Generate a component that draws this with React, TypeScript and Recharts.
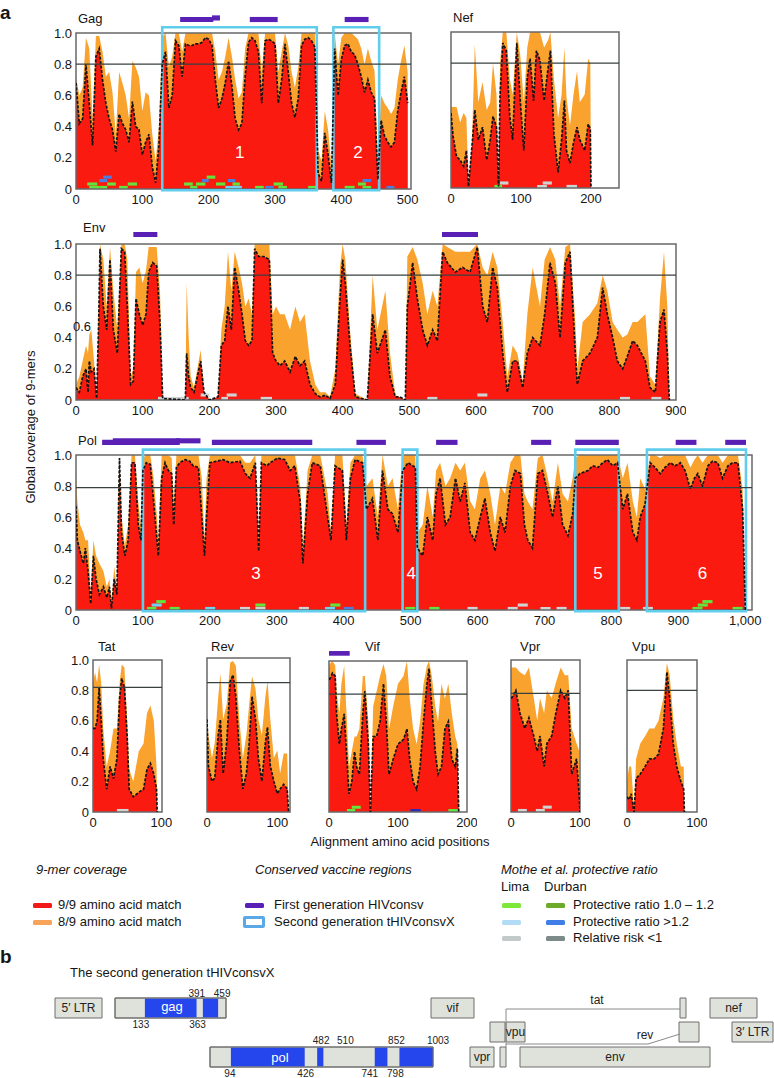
import React from 'react';
import { ComposedChart, Area, Line, XAxis, YAxis, ReferenceLine, ReferenceArea, ReferenceDot } from 'recharts';

// ---------------- DATA ----------------
// Gag
const gagX = [0,5,10,15,20,25,30,35,40,45,50,55,60,65,70,75,80,85,90,95,100,105,110,115,120,125,130,135,140,145,150,155,160,165,170,175,180,185,190,195,200,205,210,215,220,225,230,235,240,245,250,255,260,265,270,275,280,285,290,295,300,305,310,315,320,325,330,335,340,345,350,355,360,365,370,375,380,385,390,395,400,405,410,415,420,425,430,435,440,445,450,455,460,465,470,475,480,485,490,495,500];
const gagRed = [0.68,0.42,0.45,0.80,0.55,0.28,0.85,0.90,0.70,0.55,0.45,0.38,0.24,0.48,0.42,0.38,0.30,0.56,0.40,0.38,0.22,0.30,0.35,0.14,0.04,0.28,0.80,0.88,0.52,0.60,0.95,0.92,0.72,0.93,0.92,0.92,0.93,0.93,0.94,0.97,0.96,0.92,0.70,0.52,0.58,0.68,0.82,0.66,0.45,0.38,0.42,0.72,0.94,0.97,0.95,0.88,0.55,0.95,0.96,0.95,0.93,0.55,0.70,0.93,0.75,0.55,0.46,0.58,0.92,0.96,0.97,0.95,0.91,0.10,0.05,0.36,0.22,0.04,0.90,0.60,0.83,0.92,0.93,0.88,0.86,0.80,0.72,0.62,0.70,0.62,0.58,0.06,0.44,0.34,0.30,0.27,0.30,0.50,0.62,0.72,0.55];
const gagOrange = [0.72,0.60,0.65,0.97,0.90,0.45,0.98,0.98,0.88,0.72,0.75,0.62,0.35,0.75,0.68,0.60,0.45,0.82,0.78,0.72,0.50,0.62,0.60,0.35,0.18,0.40,0.97,1.0,0.78,0.85,1.0,1.0,0.88,1.0,1.0,1.0,1.0,1.0,1.0,1.0,1.0,1.0,0.88,0.70,0.75,0.85,0.97,0.85,0.70,0.58,0.62,0.90,1.0,1.0,1.0,1.0,0.75,1.0,1.0,1.0,1.0,0.75,0.88,1.0,0.92,0.75,0.65,0.78,1.0,1.0,1.0,1.0,1.0,0.25,0.18,0.50,0.38,0.15,1.0,0.80,0.97,1.0,1.0,1.0,0.98,0.96,0.90,0.80,0.90,0.82,0.76,0.20,0.60,0.55,0.52,0.48,0.52,0.70,0.82,0.92,0.75];
const gagPurple: [number, number, number][] = [[157,207,0],[205,217,1],[262,304,0],[405,441,0]];
const gagBoxes: [number, number][] = [[130,363],[388,457]];
const gagBoxNames = ['1','2'];
const gagMarks: [number, number, number, string][] = [
  [17,32,1,'g'],[20,35,0,'g'],[35,47,2,'b'],[41,54,3,'b'],[47,60,1,'g'],[35,47,0,'g'],[65,78,0,'g'],[78,92,1,'g'],
  [163,176,1,'g'],[172,183,0,'g'],[181,195,1,'g'],[190,200,2,'b'],[197,210,3,'g'],[211,225,1,'g'],[229,240,2,'b'],[236,247,1,'g'],
  [225,250,0,'c'],[270,283,0,'g'],[285,298,0,'b'],[298,312,1,'g'],[305,318,0,'g'],[350,362,0,'g'],
  [405,420,0,'g'],[425,437,1,'g'],[432,445,2,'b'],[432,445,0,'g'],[468,480,0,'b'],
];

// Nef
const nefX = [0,3,8,13,18,22,25,30,34,39,45,51,56,60,65,68,70,74,79,84,88,94,99,104,109,113,118,122,127,133,139,142,147,153,158,162,165,170,175,180,184,191,196,199,200];
const nefRed = [0.48,0.33,0.20,0.18,0.14,0.24,0.01,0.27,0.50,0.31,0.39,0.18,0.31,0.46,0.39,0.01,0.59,0.93,0.88,0.46,0.31,0.93,0.56,0.24,0.71,0.83,0.56,0.88,0.82,0.56,0.78,0.88,0.35,0.10,0.31,0.56,0.24,0.16,0.29,0.39,0.31,0.24,0.41,0.38,0];
const nefOrange = [0.52,0.52,0.52,0.42,0.48,0.45,0.02,0.30,0.92,0.55,0.68,0.50,0.55,0.80,0.60,0.02,0.80,1.0,1.0,0.70,0.60,1.0,0.85,0.55,0.90,1.0,1.0,1.0,1.0,0.90,0.95,1.0,0.70,0.45,0.60,0.90,0.58,0.40,0.60,0.75,0.55,0.60,0.83,0.80,0];
const nefMarks: [number, number, number, string][] = [[62,73,0,'g'],[70,82,1,'gy'],[123,137,0,'gy'],[131,144,1,'gy'],[165,180,0,'gy']];

// Env
const envX = [0,5,10,15,18,20,23,27,31,34,36,41,46,51,56,62,68,73,77,82,86,90,95,100,105,109,115,121,126,130,164,166,169,172,177,187,192,200,213,218,223,228,233,238,244,249,254,259,264,268,274,282,290,295,300,306,313,321,329,336,343,351,359,366,374,381,389,396,400,404,411,419,437,445,452,464,471,479,486,494,497,505,512,520,527,535,542,550,557,569,580,591,602,610,617,625,632,640,647,655,662,670,677,685,696,703,711,719,726,734,741,749,752,760,771,782,790,797,805,812,820,827,835,842,854,861,869,876,882,887,890];
const envRed = [0.08,0.05,0.15,0.20,0.05,0.25,0.18,0.20,0.01,0.50,0.97,0.60,0.45,0.90,0.45,0.30,0.97,0.95,0.60,0.10,0.12,0.65,0.55,0.48,0.55,0.82,0.88,0.86,0.50,0.01,0.00,0.30,0.15,0.08,0.05,0.25,0.05,0.00,0.02,0.35,0.38,0.60,0.45,0.85,0.70,0.55,0.38,0.35,0.38,0.97,0.92,0.92,0.90,0.30,0.25,0.22,0.25,0.18,0.28,0.22,0.25,0.10,0.04,0.02,0.03,0.01,0.10,0.65,0.90,0.75,0.35,0.02,0.00,0.55,0.30,0.45,0.15,0.02,0.02,0.00,0.60,0.88,0.65,0.45,0.35,0.45,0.38,0.95,0.88,0.82,0.85,0.82,0.98,0.60,0.50,0.85,0.72,0.30,0.05,0.25,0.25,0.08,0.30,0.40,0.35,0.55,0.88,0.75,0.40,0.88,0.95,0.30,0.10,0.25,0.30,0.40,0.72,0.55,0.40,0.25,0.20,0.28,0.38,0.35,0.25,0.08,0.05,0.50,0.58,0.30,0.00];
const envOrange = [0.10,0.15,0.25,0.35,0.30,0.42,0.45,0.25,0.02,0.60,1.0,0.90,0.60,0.98,0.70,0.45,1.0,1.0,0.90,0.15,0.20,0.82,0.85,0.75,0.83,0.98,0.98,0.98,0.70,0.01,0.00,0.75,0.40,0.15,0.08,0.32,0.06,0.00,0.02,0.45,0.60,0.95,0.70,0.95,0.85,0.75,0.60,0.65,0.55,1.0,1.0,1.0,1.0,0.55,0.60,0.55,0.55,0.45,0.60,0.50,0.55,0.25,0.10,0.05,0.05,0.02,0.20,0.85,1.0,0.90,0.45,0.04,0.00,0.80,0.45,0.70,0.30,0.03,0.02,0.00,0.92,0.98,0.90,0.75,0.55,0.70,0.60,1.0,0.98,0.95,0.95,0.95,1.0,0.85,0.80,0.95,0.85,0.50,0.15,0.35,0.30,0.12,0.55,0.85,0.60,0.90,0.98,0.90,0.60,0.98,1.0,0.50,0.20,0.50,0.55,0.62,0.80,0.70,0.50,0.45,0.40,0.42,0.50,0.50,0.55,0.15,0.10,0.65,0.95,0.60,0.00];
const envPurple: [number, number, number][] = [[86,122,0],[549,603,0]];
const envMarks: [number, number, number, string][] = [[123,169,0,'gy'],[187,200,1,'gy'],[218,228,0,'gy'],[226,241,1,'gy'],[277,294,0,'gy'],[527,542,0,'gy'],[602,617,1,'gy'],[816,831,0,'gy'],[863,878,0,'gy']];

// Pol
const polX = [0,2,6,11,14,18,22,26,30,35,41,46,50,53,57,61,65,68,73,78,83,88,93,97,100,105,111,116,121,123,128,133,138,143,146,150,155,163,170,175,183,188,192,195,200,210,220,230,245,253,260,268,273,277,285,290,301,312,320,327,335,339,346,353,365,376,381,387,398,404,410,417,428,434,443,451,458,466,473,481,488,496,507,510,518,525,533,538,544,552,559,567,574,581,589,596,604,611,619,626,634,641,649,656,664,670,675,682,690,697,705,712,720,727,735,742,746,753,765,772,780,787,794,802,809,817,824,832,838,843,850,858,865,873,880,888,895,903,910,918,924,929,936,944,951,959,966,974,981,989,996,1000];
const polRed = [0.67,0.45,0.38,0.30,0.40,0.25,0.04,0.35,0.20,0.10,0.15,0.08,0.15,0.01,0.20,0.10,0.98,0.50,0.35,0.45,0.95,0.95,0.55,0.45,0.90,0.95,0.94,0.70,0.45,0.35,0.85,0.95,0.90,0.88,0.55,0.92,0.95,0.97,0.96,0.93,0.92,0.60,0.35,0.60,0.95,0.96,0.97,0.95,0.96,0.88,0.85,0.95,0.38,0.95,0.93,0.95,0.98,0.97,0.90,0.93,0.70,0.30,0.75,0.95,0.93,0.60,0.45,0.93,0.90,0.45,0.85,0.97,0.95,0.65,0.72,0.45,0.90,0.65,0.62,0.50,0.90,0.95,0.92,0.40,0.35,0.60,0.45,0.75,0.85,0.55,0.60,0.85,0.70,0.82,0.50,0.45,0.60,0.72,0.50,0.38,0.60,0.50,0.80,0.90,0.88,0.55,0.45,0.40,0.88,0.90,0.75,0.60,0.80,0.55,0.48,0.62,0.85,0.88,0.90,0.93,0.92,0.95,0.97,0.93,0.95,0.65,0.75,0.50,0.45,0.60,0.68,0.95,0.92,0.88,0.92,0.95,0.93,0.95,0.90,0.78,0.85,0.88,0.80,0.93,0.96,0.95,0.85,0.93,0.95,0.95,0.65,0.00];
const polOrange = [0.88,0.70,0.55,0.50,0.45,0.45,0.10,0.45,0.35,0.30,0.25,0.15,0.20,0.02,0.28,0.15,1.0,0.60,0.42,0.55,1.0,1.0,0.70,0.55,0.98,1.0,1.0,0.85,0.60,0.45,1.0,1.0,1.0,0.98,0.65,1.0,1.0,1.0,1.0,1.0,1.0,0.85,0.45,0.85,1.0,1.0,1.0,1.0,1.0,0.95,0.95,1.0,0.45,1.0,1.0,1.0,1.0,1.0,1.0,1.0,0.80,0.40,0.90,1.0,1.0,0.75,0.50,1.0,1.0,0.55,0.95,1.0,1.0,0.80,0.85,0.60,1.0,0.80,0.85,0.65,1.0,1.0,1.0,0.50,0.55,0.80,0.60,0.90,0.95,0.80,0.85,0.95,0.90,0.95,0.70,0.65,0.85,0.90,0.75,0.55,0.80,0.75,0.95,1.0,1.0,0.75,0.70,0.65,0.98,1.0,0.85,0.70,0.95,0.75,0.70,0.85,0.98,1.0,1.0,1.0,1.0,1.0,1.0,1.0,1.0,0.85,0.95,0.70,0.60,0.85,0.78,1.0,1.0,0.98,1.0,1.0,1.0,1.0,1.0,0.92,0.97,1.0,0.95,1.0,1.0,1.0,0.95,1.0,1.0,1.0,0.78,0.00];
const polPurple: [number, number, number][] = [[39,155,0],[55,155,1],[150,186,1],[203,353,0],[419,463,0],[538,570,0],[680,710,0],[746,811,0],[896,927,0],[970,1001,0]];
const polBoxes: [number, number][] = [[100,432],[488,510],[746,811],[853,1001]];
const polBoxNames = ['3','4','5','6'];
const polMarks: [number, number, number, string][] = [
  [106,120,0,'g'],[113,128,1,'c'],[120,134,2,'g'],[140,155,0,'g'],[193,208,0,'c'],[245,260,0,'gy'],[268,283,1,'g'],[268,283,0,'gy'],
  [333,348,0,'gy'],[372,387,0,'c'],[380,395,1,'g'],[400,415,0,'b'],[492,507,0,'g'],[528,543,0,'g'],[585,600,0,'gy'],[645,660,0,'gy'],
  [660,675,1,'gy'],[694,709,0,'gy'],[718,733,0,'gy'],[813,828,0,'gy'],[847,862,0,'gy'],[921,936,0,'g'],[929,944,1,'g'],[936,951,2,'g'],[981,996,0,'g'],
];

// Tat
const tatX = [0,3,6,9,12,15,20,25,30,35,39,42,46,50,53,59,67,74,79,84,89,93,94];
const tatRed = [0.55,0.55,0.60,0.82,0.60,0.35,0.15,0.30,0.22,0.35,0.75,0.88,0.82,0.50,0.15,0.10,0.13,0.15,0.28,0.32,0.25,0.15,0];
const tatOrange = [0.85,0.92,0.85,0.97,0.85,0.55,0.30,0.40,0.55,0.55,0.85,0.97,0.95,0.60,0.28,0.20,0.40,0.45,0.65,0.70,0.60,0.30,0];
const tatMarks: [number, number, number, string][] = [[35,52,0,'gy']];

// Rev
const revX = [0,2,7,11,16,19,23,28,33,37,41,46,51,56,60,64,69,73,78,83,86,90,95,100,104,109,114,116];
const revRed = [0.60,0.30,0.20,0.22,0.50,0.60,0.25,0.45,0.85,0.89,0.75,0.40,0.15,0.25,0.45,0.75,0.60,0.35,0.20,0.45,0.55,0.30,0.20,0.12,0.15,0.18,0.15,0];
const revOrange = [0.65,0.50,0.35,0.45,0.75,0.90,0.60,0.70,0.97,0.98,0.95,0.60,0.35,0.50,0.70,0.88,0.80,0.60,0.50,0.75,0.85,0.60,0.35,0.40,0.25,0.38,0.38,0];

// Vif
const vifX = [0,1,5,9,11,15,18,22,26,29,33,37,40,44,49,52,57,60,64,69,74,79,83,87,93,100,108,113,117,122,127,132,137,142,145,149,154,158,163,168,173,178,183,186,188];
const vifRed = [0.88,0.88,0.92,0.90,0.65,0.45,0.55,0.65,0.35,0.12,0.20,0.40,0.30,0.25,0.65,0.80,0.45,0.00,0.50,0.50,0.60,0.85,0.60,0.25,0.35,0.45,0.48,0.55,0.35,0.20,0.15,0.30,0.60,0.85,0.95,0.70,0.40,0.25,0.30,0.55,0.60,0.35,0.30,0.42,0];
const vifOrange = [0.95,0.98,1.0,0.97,0.80,0.65,0.85,0.97,0.60,0.30,0.40,0.50,0.50,0.55,0.90,0.90,0.60,0.00,0.70,0.80,0.90,0.98,0.90,0.55,0.70,0.85,0.90,1.0,0.75,0.55,0.45,0.60,0.85,0.97,1.0,0.90,0.70,0.60,0.85,0.75,0.85,0.65,0.50,0.45,0];
const vifPurple: [number, number, number][] = [[0,30,0]];
const vifMarks: [number, number, number, string][] = [[26,38,0,'g'],[33,46,1,'g'],[118,133,0,'db'],[173,187,0,'g']];

// Vpr
const vprX = [0,1,7,13,20,26,33,38,42,48,52,59,65,72,78,83,88,95,99,100];
const vprRed = [0.75,0.75,0.80,0.65,0.55,0.62,0.50,0.40,0.50,0.30,0.45,0.50,0.65,0.80,0.75,0.80,0.25,0.35,0.10,0];
const vprOrange = [0.95,0.95,0.95,0.92,0.90,0.95,0.75,0.60,0.75,0.65,0.80,0.75,0.85,0.95,0.90,0.90,0.55,0.45,0.40,0];
const vprMarks: [number, number, number, string][] = [[10,23,0,'gy'],[36,49,0,'gy'],[46,59,1,'gy']];

// Vpu
const vpuX = [0,3,6,10,13,19,26,32,39,45,52,57,61,66,71,77,81,82];
const vpuRed = [0.10,0.08,0.12,0.00,0.22,0.25,0.30,0.35,0.35,0.38,0.55,0.92,0.75,0.45,0.30,0.20,0.15,0];
const vpuOrange = [0.20,0.30,0.30,0.02,0.35,0.45,0.50,0.55,0.55,0.60,0.75,0.98,0.90,0.62,0.45,0.30,0.30,0];

// thresholds (horizontal line per panel)
const thresholds = { gag: 0.8, nef: 0.8, env: 0.8, pol: 0.79, tat: 0.82, rev: 0.84, vif: 0.78, vpr: 0.78, vpu: 0.8 };

// Panel b: schematic gene map (schematic units)
const geneBoxes: [string, number, number, number][] = [
  ['5′ LTR', 55, 102, 0], ['gag', 115, 226, 0], ['vif', 431, 474, 0], ['', 680, 686, 0], ['nef', 710, 757, 0],
  ['', 490, 505, 1], ['vpu', 506, 525, 1], ['', 679, 699, 1], ['3′ LTR', 732, 773, 1],
  ['pol', 210, 433, 2], ['vpr', 470, 494, 2], ['', 500, 506, 2], ['env', 520, 710, 2],
];
const gagLen = 494;
const polLen = 1003;
const gagRegions: [number, number][] = [[133, 363], [391, 459]];
const polRegions: [number, number][] = [[94, 426], [482, 510], [741, 798], [852, 1003]];

// ---------------- STYLE ----------------
const FONT = "'Liberation Sans', Arial, Helvetica, sans-serif";
const C = {
  red: '#fb1a10', orange: '#f9a22e', line: '#141414', purple: '#5a1fb5', cyan: '#60cdec', frame: '#686868', thr: '#394040',
};
const MARK: Record<string, string> = { g: '#62e43c', b: '#4a7ee0', c: '#72d0f2', gy: '#d0d3d3', db: '#2b2bb8' };

type Cfg = {
  key: keyof typeof thresholds; title: string; titleX: number; titleY: number;
  left: number; top: number; plotW: number; plotH: number; xMax: number; xTicks: number[]; showY: boolean;
  xs: number[]; red: number[]; orange: number[];
  purple?: [number, number, number][]; purpleY?: [number, number];
  boxes?: [number, number][]; boxNames?: string[]; boxLabelX?: number[]; boxTop?: number;
  marks?: [number, number, number, string][];
};

const panels: Cfg[] = [
  { key: 'gag', title: 'Gag', titleX: 78, titleY: 19, left: 76, top: 33, plotW: 335, plotH: 156, xMax: 505, xTicks: [0,100,200,300,400,500], showY: true,
    xs: gagX, red: gagRed, orange: gagOrange, purple: gagPurple, purpleY: [1.07, 1.103], boxes: gagBoxes, boxNames: gagBoxNames, boxLabelX: [247, 425], boxTop: 1.037, marks: gagMarks },
  { key: 'nef', title: 'Nef', titleX: 453, titleY: 18, left: 451, top: 32, plotW: 168, plotH: 156, xMax: 240, xTicks: [0,100,200], showY: false,
    xs: nefX, red: nefRed, orange: nefOrange, marks: nefMarks },
  { key: 'env', title: 'Env', titleX: 83, titleY: 228, left: 76, top: 244, plotW: 600, plotH: 156, xMax: 900, xTicks: [0,100,200,300,400,500,600,700,800,900], showY: true,
    xs: envX, red: envRed, orange: envOrange, purple: envPurple, purpleY: [1.045, 1.077], marks: envMarks },
  { key: 'pol', title: 'Pol', titleX: 78, titleY: 441, left: 76, top: 455, plotW: 676, plotH: 155, xMax: 1010, xTicks: [0,100,200,300,400,500,600,700,800,900,1000], showY: true,
    xs: polX, red: polRed, orange: polOrange, purple: polPurple, purpleY: [1.065, 1.098], boxes: polBoxes, boxNames: polBoxNames, boxLabelX: [269, 501, 780, 936], boxTop: 1.035, marks: polMarks },
  { key: 'tat', title: 'Tat', titleX: 98, titleY: 647, left: 93, top: 660, plotW: 69, plotH: 152, xMax: 101, xTicks: [0,100], showY: true,
    xs: tatX, red: tatRed, orange: tatOrange, marks: tatMarks },
  { key: 'rev', title: 'Rev', titleX: 211, titleY: 647, left: 207, top: 658, plotW: 83, plotH: 154, xMax: 118, xTicks: [0,100], showY: false,
    xs: revX, red: revRed, orange: revOrange },
  { key: 'vif', title: 'Vif', titleX: 365, titleY: 647, left: 329, top: 661, plotW: 138, plotH: 151, xMax: 200, xTicks: [0,100,200], showY: false,
    xs: vifX, red: vifRed, orange: vifOrange, purple: vifPurple, purpleY: [1.035, 1.066], marks: vifMarks },
  { key: 'vpr', title: 'Vpr', titleX: 520, titleY: 647, left: 511, top: 660, plotW: 69, plotH: 152, xMax: 100, xTicks: [0,100], showY: false,
    xs: vprX, red: vprRed, orange: vprOrange, marks: vprMarks },
  { key: 'vpu', title: 'Vpu', titleX: 632, titleY: 647, left: 627, top: 660, plotW: 70, plotH: 152, xMax: 100, xTicks: [0,100], showY: false,
    xs: vpuX, red: vpuRed, orange: vpuOrange },
];

const Txt: React.FC<{ x: number; y: number; size?: number; anchor?: 'start' | 'middle' | 'end'; style?: React.CSSProperties; children: React.ReactNode }> =
  ({ x, y, size = 13, anchor = 'start', style = {}, children }) => {
    const tr = anchor === 'middle' ? 'translate(-50%,-50%)' : anchor === 'end' ? 'translate(-100%,-50%)' : 'translateY(-50%)';
    return (
      <div style={{ position: 'absolute', left: x, top: y, transform: tr, fontSize: size, lineHeight: 1.15, whiteSpace: 'nowrap', color: '#151515', ...style }}>
        {children}
      </div>
    );
  };

const TIER = 0.022;
const MARK_H = 0.02;
const Y_TICKS = [0, 0.2, 0.4, 0.6, 0.8, 1];

function Panel({ cfg }: { cfg: Cfg }) {
  const YW = 40, TM = 36, RM = 10, XH = 30;
  const w = YW + cfg.plotW + RM;
  const h = TM + cfg.plotH + XH;
  const data = cfg.xs.map((x, i) => ({ x, red: cfg.red[i], orange: cfg.orange[i] }));
  const thr = thresholds[cfg.key];
  return (
    <div style={{ position: 'absolute', left: cfg.left - YW, top: cfg.top - TM, width: w, height: h }}>
      <ComposedChart width={w} height={h} data={data} margin={{ top: TM, right: RM, left: 0, bottom: 0 }}>
        <XAxis dataKey="x" type="number" domain={[0, cfg.xMax]} ticks={cfg.xTicks} interval={0} allowDataOverflow height={XH}
          axisLine={false} tickLine={false} tickSize={0} tickMargin={6}
          tick={{ fontSize: 13, fill: '#161616', fontFamily: FONT }} tickFormatter={(v: number) => v.toLocaleString('en-US')} />
        <XAxis xAxisId="top" dataKey="x" type="number" orientation="top" mirror domain={[0, cfg.xMax]} ticks={cfg.xTicks} interval={0}
          allowDataOverflow axisLine={false} tick={false} tickSize={3} tickLine={{ stroke: '#777' }} />
        <YAxis type="number" domain={[0, 1]} ticks={Y_TICKS} interval={0} allowDataOverflow width={YW} axisLine={false} tickLine={false}
          tickSize={0} tickMargin={4} tick={cfg.showY ? { fontSize: 13, fill: '#161616', fontFamily: FONT } : false}
          tickFormatter={(v: number) => (v === 0 ? '0' : v.toFixed(1))} />
        <YAxis yAxisId="right" type="number" orientation="right" mirror domain={[0, 1]} ticks={Y_TICKS} interval={0}
          axisLine={false} tick={false} tickSize={3} tickLine={{ stroke: '#777' }} />
        <Area dataKey="orange" type="linear" fill={C.orange} fillOpacity={1} stroke="none" isAnimationActive={false} dot={false} activeDot={false} />
        <Area dataKey="red" type="linear" fill={C.red} fillOpacity={1} stroke="none" isAnimationActive={false} dot={false} activeDot={false} />
        <Line dataKey="red" type="linear" stroke={C.line} strokeWidth={1.7} strokeDasharray="3 1.5" dot={false} activeDot={false} isAnimationActive={false} />
        <ReferenceLine y={thr} stroke={C.thr} strokeWidth={1.3} ifOverflow="visible" />
        {(cfg.marks || []).map(([a, b, t, c], i) => (
          <ReferenceArea key={'m' + i} x1={a} x2={b} y1={t * TIER} y2={t * TIER + MARK_H} fill={MARK[c]} fillOpacity={1} stroke="none" ifOverflow="visible" />
        ))}
        <ReferenceArea x1={0} x2={cfg.xMax} y1={0} y2={1} fill="none" fillOpacity={0} stroke={C.frame} strokeWidth={1.5} ifOverflow="visible" />
        {(cfg.boxes || []).map(([a, b], i) => (
          <ReferenceArea key={'bx' + i} x1={a} x2={b} y1={-0.008} y2={cfg.boxTop} fill="none" fillOpacity={0} stroke={C.cyan} strokeWidth={2.6} ifOverflow="visible" />
        ))}
        {(cfg.boxNames || []).map((n, i) => (
          <ReferenceDot key={'bn' + i} x={cfg.boxLabelX![i]} y={0.24} r={0} fill="none" stroke="none"
            label={{ value: n, position: 'center', fill: '#ffffff', fontSize: 17, fontFamily: FONT }} />
        ))}
        {(cfg.purple || []).map(([a, b, lv], i) => (
          <ReferenceArea key={'p' + i} x1={a} x2={b} y1={cfg.purpleY![0] + lv * 0.01} y2={cfg.purpleY![1] + lv * 0.01}
            fill={C.purple} fillOpacity={1} stroke="none" ifOverflow="visible" />
        ))}
      </ComposedChart>
    </div>
  );
}

const ROW_Y: [number, number][] = [[55, 75], [79, 99], [104, 124]];
const BOX_FILL = '#dfe2da';
const BOX_STROKE = '#6e6e6e';
const BLUE = '#2446ec';

function GeneMap() {
  const w = 774, h = 135;
  const gag = geneBoxes.find((g) => g[0] === 'gag')!;
  const pol = geneBoxes.find((g) => g[0] === 'pol')!;
  const gx = (aa: number) => gag[1] + (aa / gagLen) * (gag[2] - gag[1]);
  const px = (aa: number) => pol[1] + (aa / polLen) * (pol[2] - pol[1]);
  const numLab = (key: string, x: number, y: number, v: number) => (
    <ReferenceDot key={key} x={x} y={y} r={0} fill="none" stroke="none" ifOverflow="visible"
      label={{ value: String(v), position: 'center', fontSize: 10, fill: '#222', fontFamily: FONT }} />
  );
  const gagAbove = [[gagRegions[1][0], -6], [gagRegions[1][1], 4]];
  const gagBelow = [[gagRegions[0][0], -4], [gagRegions[0][1], 1]];
  const polAbove = [[polRegions[1][0], 4], [polRegions[1][1], 22], [polRegions[3][0], -3], [polRegions[3][1], 5]];
  const polBelow = [[polRegions[0][0], -1], [polRegions[0][1], 1], [polRegions[2][0], -5], [polRegions[2][1], 8]];
  return (
    <div style={{ position: 'absolute', left: 0, top: 943, width: w, height: h }}>
      <ComposedChart width={w} height={h} data={[{ x: 0, y: 0 }, { x: 774, y: 135 }]} margin={{ top: 0, right: 0, left: 0, bottom: 0 }}>
        <XAxis dataKey="x" type="number" domain={[0, 774]} hide allowDataOverflow />
        <YAxis type="number" domain={[0, 135]} reversed hide allowDataOverflow />
        {geneBoxes.map(([n, a, b, r], i) => (
          <ReferenceArea key={'gb' + i} x1={a} x2={b} y1={ROW_Y[r][0]} y2={ROW_Y[r][1]} fill={BOX_FILL} fillOpacity={1}
            stroke={BOX_STROKE} strokeWidth={1} ifOverflow="visible"
            label={n && n !== 'gag' && n !== 'pol' ? { value: n, position: 'center', fontSize: 12, fill: '#222', fontFamily: FONT } : undefined} />
        ))}
        {gagRegions.map(([a, b], i) => (
          <ReferenceArea key={'gr' + i} x1={gx(a)} x2={gx(b)} y1={ROW_Y[0][0] + 0.5} y2={ROW_Y[0][1] - 0.5} fill={BLUE} fillOpacity={1} stroke="none" ifOverflow="visible" />
        ))}
        {polRegions.map(([a, b], i) => (
          <ReferenceArea key={'pr' + i} x1={px(a)} x2={px(b)} y1={ROW_Y[2][0] + 0.5} y2={ROW_Y[2][1] - 0.5} fill={BLUE} fillOpacity={1} stroke="none" ifOverflow="visible" />
        ))}
        <ReferenceArea x1={gag[1]} x2={gag[2]} y1={ROW_Y[0][0]} y2={ROW_Y[0][1]} fill="none" fillOpacity={0} stroke={BOX_STROKE} ifOverflow="visible" />
        <ReferenceArea x1={pol[1]} x2={pol[2]} y1={ROW_Y[2][0]} y2={ROW_Y[2][1]} fill="none" fillOpacity={0} stroke={BOX_STROKE} ifOverflow="visible" />
        <ReferenceDot x={172} y={63} r={0} fill="none" stroke="none" label={{ value: 'gag', position: 'center', fontSize: 13, fill: '#fff', fontFamily: FONT }} />
        <ReferenceDot x={280} y={114} r={0} fill="none" stroke="none" label={{ value: 'pol', position: 'center', fontSize: 13, fill: '#fff', fontFamily: FONT }} />
        {/* splicing lines for tat and rev */}
        <ReferenceLine segment={[{ x: 506, y: 66 }, { x: 680, y: 66 }]} stroke="#8a8a8a" strokeWidth={1} ifOverflow="visible" />
        <ReferenceLine segment={[{ x: 506, y: 66 }, { x: 506, y: 104 }]} stroke="#8a8a8a" strokeWidth={1} ifOverflow="visible" />
        <ReferenceLine segment={[{ x: 506, y: 101 }, { x: 648, y: 101 }]} stroke="#8a8a8a" strokeWidth={1} ifOverflow="visible" />
        <ReferenceLine segment={[{ x: 648, y: 101 }, { x: 680, y: 91 }]} stroke="#8a8a8a" strokeWidth={1} ifOverflow="visible" />
        <ReferenceDot x={597} y={57} r={0} fill="none" stroke="none" label={{ value: 'tat', position: 'center', fontSize: 12, fill: '#222', fontFamily: FONT }} />
        <ReferenceDot x={645} y={92} r={0} fill="none" stroke="none" label={{ value: 'rev', position: 'center', fontSize: 12, fill: '#222', fontFamily: FONT }} />
        {gagAbove.map(([v, dx], i) => numLab('ga' + i, gx(v) + dx, 50, v))}
        {gagBelow.map(([v, dx], i) => numLab('gbl' + i, gx(v) + dx, 81, v))}
        {polAbove.map(([v, dx], i) => numLab('pa' + i, px(v) + dx, 97, v))}
        {polBelow.map(([v, dx], i) => numLab('pbl' + i, px(v) + dx, 130, v))}
      </ComposedChart>
    </div>
  );
}

const Swatch: React.FC<{ x: number; y: number; color: string; w?: number; h?: number }> = ({ x, y, color, w = 19, h = 5 }) => (
  <div style={{ position: 'absolute', left: x, top: y - h / 2, width: w, height: h, background: color, borderRadius: 1.5 }} />
);

export default function App() {
  return (
    <div style={{ position: 'absolute', left: 0, top: 0, width: 774, height: 1078, background: '#fff', fontFamily: FONT, overflow: 'hidden' }}>
      <Txt x={0} y={13} size={19} style={{ fontWeight: 'bold' }}>a</Txt>
      {panels.map((p) => (
        <React.Fragment key={p.key}>
          <Panel cfg={p} />
          <Txt x={p.titleX} y={p.titleY} size={13}>{p.title}</Txt>
        </React.Fragment>
      ))}
      <Txt x={73} y={327} size={13}>0.6</Txt>
      <Txt x={31} y={427} size={13} anchor="middle" style={{ transform: 'translate(-50%,-50%) rotate(-90deg)' }}>Global coverage of 9-mers</Txt>
      <Txt x={400} y={842} size={13} anchor="middle">Alignment amino acid positions</Txt>

      {/* legend */}
      <Txt x={36} y={870} size={13} style={{ fontStyle: 'italic' }}>9-mer coverage</Txt>
      <Txt x={255} y={870} size={13} style={{ fontStyle: 'italic' }}>Conserved vaccine regions</Txt>
      <Txt x={501} y={870} size={13} style={{ fontStyle: 'italic' }}>Mothe et al. protective ratio</Txt>
      <Txt x={501} y={887} size={13}>Lima</Txt>
      <Txt x={544} y={887} size={13}>Durban</Txt>

      <Swatch x={33} y={905} color="#f21a16" />
      <Txt x={58} y={905} size={13}>9/9 amino acid match</Txt>
      <Swatch x={33} y={922} color="#f7a35a" />
      <Txt x={58} y={922} size={13}>8/9 amino acid match</Txt>

      <Swatch x={245} y={905} color={C.purple} />
      <Txt x={274} y={905} size={13}>First generation HIVconsv</Txt>
      <div style={{ position: 'absolute', left: 243, top: 916, width: 16, height: 6, border: '3px solid #5aa9e6', borderRadius: 2, background: '#fff' }} />
      <Txt x={274} y={922} size={13}>Second generation tHIVconsvX</Txt>

      <Swatch x={502} y={905} color="#7de83a" />
      <Swatch x={546} y={905} color="#6caa2a" />
      <Txt x={573} y={905} size={13}>Protective ratio 1.0 – 1.2</Txt>
      <Swatch x={502} y={922} color="#b2dcf5" />
      <Swatch x={546} y={922} color="#3f7ee6" />
      <Txt x={573} y={922} size={13}>Protective ratio &gt;1.2</Txt>
      <Swatch x={502} y={938} color="#c3c9c9" />
      <Swatch x={546} y={938} color="#7d8a8a" />
      <Txt x={573} y={938} size={13}>Relative risk &lt;1</Txt>

      {/* panel b */}
      <Txt x={0} y={957} size={19} style={{ fontWeight: 'bold' }}>b</Txt>
      <Txt x={70} y={973} size={13}>The second generation tHIVconsvX</Txt>
      <GeneMap />
    </div>
  );
}
